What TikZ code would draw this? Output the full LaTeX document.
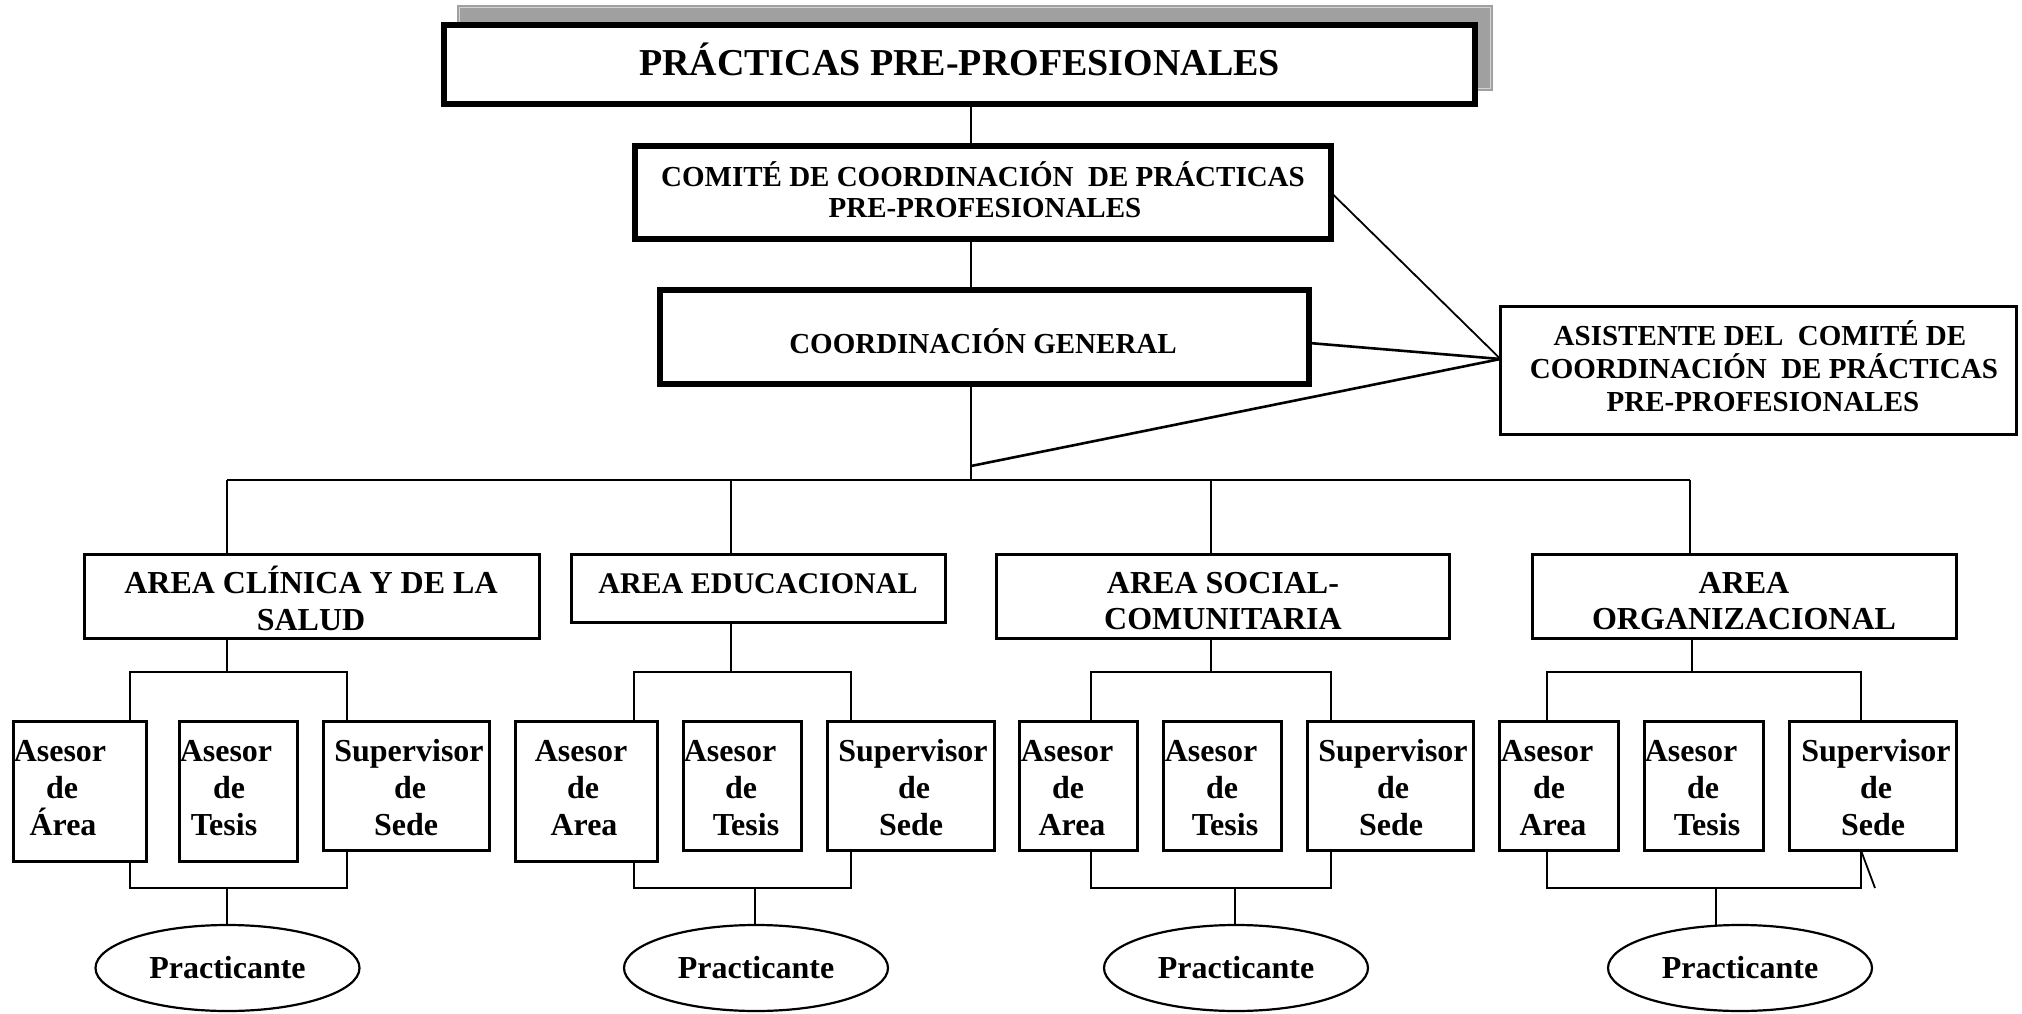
\documentclass[tikz,border=0pt]{standalone}
\usepackage{fontspec}
\setmainfont{Liberation Serif}
\usetikzlibrary{shapes.geometric}
\definecolor{shadowgray}{HTML}{A0A0A0}
\definecolor{shadowline}{HTML}{D4D4D4}
\newcommand\txtline[5][]{\node[txt,#1] (#2) at (#3,#4) {#5};}
\newcommand\trio[7]{%
  \node[subtxt] (#1a) at (#2,761) {#3};
  \node[subtxt] (#1b) at (#4,798) {#5};
  \node[subtxt] (#1c) at (#6,835) {#7};}
\begin{document}
\begin{tikzpicture}[x=1pt,y=-1pt,
  every node/.style={inner sep=0pt,outer sep=0pt},
  heavybox/.style={draw,line width=6pt,fill=white},
  lightbox/.style={draw,line width=3pt,fill=white},
  subbox/.style={draw,line width=2.8pt},
  conn/.style={line width=2.6pt},
  thinconn/.style={line width=1.8pt},
  oval/.style={ellipse,draw,line width=2.2pt,minimum width=264pt,minimum height=86pt,
    font=\fontsize{32}{37}\selectfont\bfseries},
  txt/.style={anchor=base,font=\bfseries},
  ttlfont/.style={font=\fontsize{38}{44}\selectfont\bfseries},
  topfont/.style={font=\fontsize{29}{33}\selectfont\bfseries},
  areafont/.style={font=\fontsize{32}{37}\selectfont\bfseries},
  edufont/.style={font=\fontsize{30}{35}\selectfont\bfseries},
  subtxt/.style={txt,font=\fontsize{32}{37}\selectfont\bfseries}]
\useasboundingbox[fill=white] (0,0) rectangle (2022,1014);

% ---------- top boxes ----------
\node[fill=shadowgray,minimum width=1036pt,minimum height=86pt] (shadow) at (975,48) {};
\draw[shadowline,line width=1.5pt] ([xshift=2.5pt,yshift=-2.5pt]shadow.north west) rectangle ([xshift=-2.5pt,yshift=2.5pt]shadow.south east);
\node[heavybox,minimum width=1031pt,minimum height=79pt] (title) at (959.5,64.5) {};
\node[heavybox,minimum width=696pt,minimum height=93pt] (comite) at (983,192.5) {};
\node[heavybox,minimum width=649pt,minimum height=94pt] (coord) at (984.5,337) {};
\node[lightbox,minimum width=516pt,minimum height=128pt] (asist) at (1758.5,370) {};

\txtline[ttlfont]{tT}{959.5}{76}{PRÁCTICAS PRE-PROFESIONALES}
\txtline[topfont]{cT1}{983}{186}{COMITÉ DE COORDINACIÓN\ \ DE PRÁCTICAS}
\txtline[topfont]{cT2}{985}{218}{PRE-PROFESIONALES}
\txtline[topfont]{gT}{983}{353}{COORDINACIÓN GENERAL}
\txtline[topfont]{sT1}{1760}{345}{ASISTENTE DEL\ \ COMITÉ DE}
\txtline[topfont]{sT2}{1764}{378}{COORDINACIÓN\ \ DE PRÁCTICAS}
\txtline[topfont]{sT3}{1763}{411}{PRE-PROFESIONALES}

% ---------- area boxes ----------
\node[lightbox,minimum width=455pt,minimum height=84pt] (a1) at (312,596.5) {};
\node[lightbox,minimum width=374pt,minimum height=68pt] (a2) at (758.5,588.5) {};
\node[lightbox,minimum width=453pt,minimum height=84pt] (a3) at (1223,596.5) {};
\node[lightbox,minimum width=424pt,minimum height=84pt] (a4) at (1744.5,596.5) {};

\txtline[areafont]{a1T1}{311}{593}{AREA CLÍNICA Y DE LA}
\txtline[areafont]{a1T2}{311}{630}{SALUD}
\txtline[edufont]{a2T}{758}{593}{AREA EDUCACIONAL}
\txtline[areafont]{a3T1}{1223}{593}{AREA SOCIAL-}
\txtline[areafont]{a3T2}{1223}{629}{COMUNITARIA}
\txtline[areafont]{a4T1}{1744}{593}{AREA}
\txtline[areafont]{a4T2}{1744}{629}{ORGANIZACIONAL}

% ---------- sub boxes ----------
\node[subbox,minimum width=133pt,minimum height=140pt] (g1b1) at (80,791.5) {};
\node[subbox,minimum width=118pt,minimum height=140pt] (g1b2) at (238.5,791.5) {};
\node[subbox,minimum width=166pt,minimum height=129pt] (g1b3) at (406.5,786) {};
\node[subbox,minimum width=142pt,minimum height=140pt] (g2b1) at (586.5,791.5) {};
\node[subbox,minimum width=118pt,minimum height=129pt] (g2b2) at (742.5,786) {};
\node[subbox,minimum width=167pt,minimum height=129pt] (g2b3) at (911,786) {};
\node[subbox,minimum width=118pt,minimum height=129pt] (g3b1) at (1078.5,786) {};
\node[subbox,minimum width=118pt,minimum height=129pt] (g3b2) at (1222.5,786) {};
\node[subbox,minimum width=166pt,minimum height=129pt] (g3b3) at (1390.5,786) {};
\node[subbox,minimum width=119pt,minimum height=129pt] (g4b1) at (1559,786) {};
\node[subbox,minimum width=119pt,minimum height=129pt] (g4b2) at (1704,786) {};
\node[subbox,minimum width=167pt,minimum height=129pt] (g4b3) at (1873,786) {};

\trio{g1t1}{60}{Asesor}{62}{de}{63}{Área}
\trio{g1t2}{226}{Asesor}{229}{de}{224}{Tesis}
\trio{g1t3}{409}{Supervisor}{410}{de}{406}{Sede}
\trio{g2t1}{581}{Asesor}{583}{de}{584}{Area}
\trio{g2t2}{730}{Asesor}{741}{de}{746}{Tesis}
\trio{g2t3}{913}{Supervisor}{914}{de}{911}{Sede}
\trio{g3t1}{1067}{Asesor}{1068}{de}{1072}{Area}
\trio{g3t2}{1211}{Asesor}{1222}{de}{1225}{Tesis}
\trio{g3t3}{1393}{Supervisor}{1393}{de}{1391}{Sede}
\trio{g4t1}{1547}{Asesor}{1549}{de}{1553}{Area}
\trio{g4t2}{1691}{Asesor}{1703}{de}{1707}{Tesis}
\trio{g4t3}{1876}{Supervisor}{1876}{de}{1873}{Sede}

% ---------- practicante ----------
\node[oval] (g1e) at (227.5,968) {Practicante};
\node[oval] (g2e) at (756,968) {Practicante};
\node[oval] (g3e) at (1236,968) {Practicante};
\node[oval] (g4e) at (1740,968) {Practicante};

% ---------- coordinates ----------
\coordinate (spine) at (971,0);
\coordinate (dj) at (971,466);
\coordinate (aj) at ([yshift=11pt]asist.west);
\coordinate (busL) at (227,480);
\coordinate (d2) at (731,480);
\coordinate (d3) at (1211,480);
\coordinate (busR) at (1690,480);
\foreach \g/\l/\m/\r/\n in {g1/130/227/347/227, g2/634/731/851/755, g3/1091/1211/1331/1235, g4/1547/1692/1861/1716}{
  \coordinate (\g L) at (\l,672);
  \coordinate (\g M) at (\m,672);
  \coordinate (\g R) at (\r,672);
  \coordinate (\g l) at (\l,888);
  \coordinate (\g n) at (\n,888);
  \coordinate (\g r) at (\r,888);
}
\coordinate (stray) at (1875,888);

% ---------- connectors ----------
\draw[conn] (title.south -| spine) -- (comite.north -| spine);
\draw[conn] (comite.south -| spine) -- (coord.north -| spine);
\draw[conn] (coord.south -| spine) -- (spine |- busL);
\draw[thinconn] (comite.east) -- (aj);
\draw[conn] ([yshift=-6pt]coord.east) -- (aj);
\draw[conn] (aj) -- (dj);
\draw[conn] (busL) -- (busR);
\draw[conn] (busL) -- (a1.north -| busL);
\draw[conn] (d2) -- (a2.north -| d2);
\draw[conn] (d3) -- (a3.north -| d3);
\draw[conn] (busR) -- (a4.north -| busR);

\draw[conn] (a1.south -| g1M) -- (g1M);
\draw[conn] (a2.south -| g2M) -- (g2M);
\draw[conn] (a3.south -| g3M) -- (g3M);
\draw[conn] (a4.south -| g4M) -- (g4M);
\foreach \g in {g1,g2,g3,g4}{
  \draw[conn] (\g b1.north -| \g L) -- (\g L) -- (\g R) -- (\g b3.north -| \g R);
  \draw[conn] (\g b1.south -| \g L) -- (\g l) -- (\g r) -- (\g b3.south -| \g R);
  \draw[conn] (\g n) -- (\g e.north -| \g n);
}
\draw[thinconn] (g4b3.south -| g4R) -- (stray);
\end{tikzpicture}
\end{document}
